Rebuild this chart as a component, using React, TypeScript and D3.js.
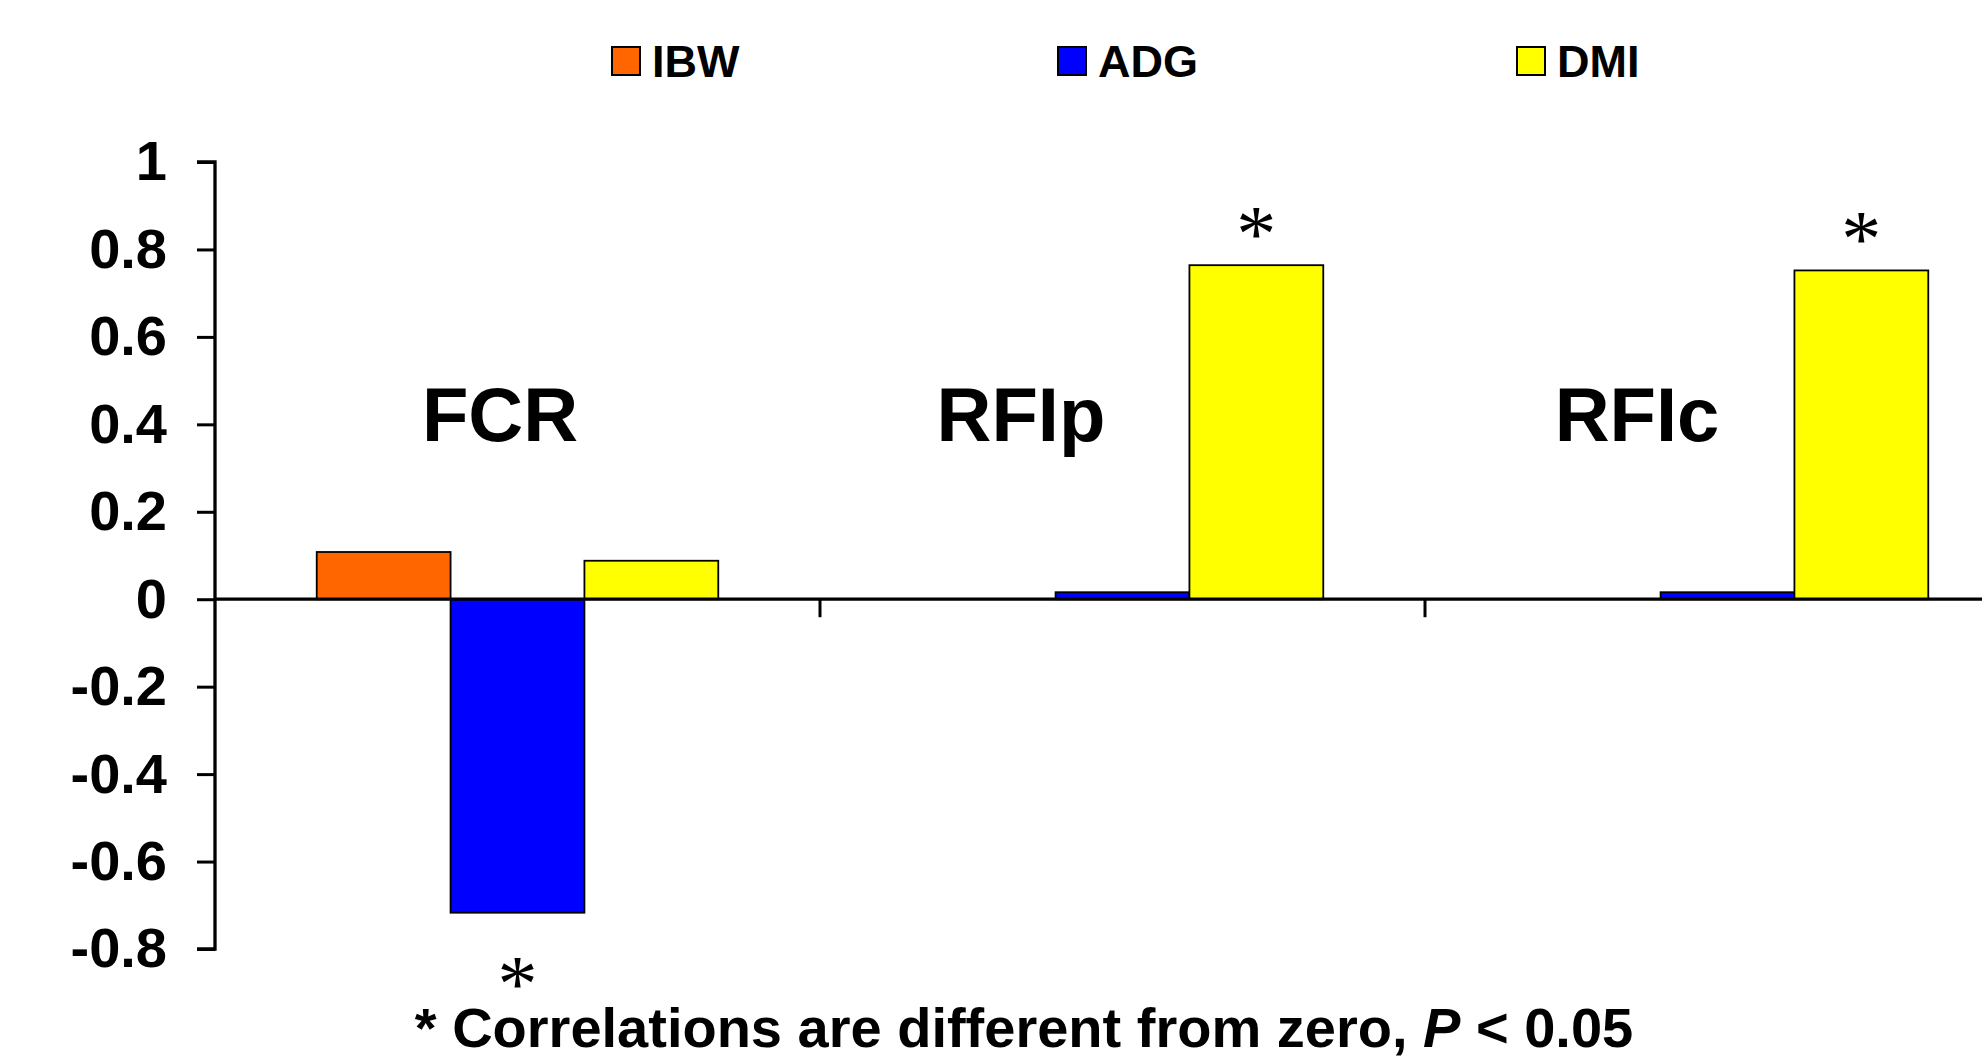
import React, { useRef, useEffect } from 'react';
import * as d3 from 'd3';

// correlations of each trait with the efficiency measures
const categories = ['FCR', 'RFIp', 'RFIc'];
const seriesNames = ['IBW', 'ADG', 'DMI'];
const ibw = [0.108, 0, 0];
const adg = [-0.717, 0.016, 0.016];
const dmi = [0.088, 0.764, 0.752];
// which bars carry a significance star
const starIBW = [false, false, false];
const starADG = [true, false, false];
const starDMI = [false, true, true];
const yTicks = [1, 0.8, 0.6, 0.4, 0.2, 0, -0.2, -0.4, -0.6, -0.8];
const footnote = '* Correlations are different from zero, ';

const colors = ['#FF6600', '#0000FF', '#FFFF00'];

const App = () => {
  const canvas = useRef<SVGSVGElement>(null);

  const drawChart = () => {
    const width = 1982;
    const height = 1059;
    const svg = d3.select(canvas.current);
    svg.selectAll('*').remove();
    svg.attr('width', width).attr('height', height);

    const font = '"Liberation Sans", Arial, sans-serif';
    const left = 215;
    const catW = 605;

    const y = d3.scaleLinear().domain([-0.8, 1]).range([949, 162]);
    const x0 = d3.scaleBand().domain(categories).range([left, left + catW * categories.length]).padding(0);
    const x1 = d3.scaleBand().domain(seriesNames).range([0, x0.bandwidth()]).paddingInner(0).paddingOuter(0.76);

    const values = [ibw, adg, dmi];
    const stars = [starIBW, starADG, starDMI];
    const rows: { cat: string; s: string; v: number; c: string; star: boolean }[] = [];
    categories.forEach((cat, i) => {
      seriesNames.forEach((s, j) => {
        rows.push({ cat, s, v: values[j][i], c: colors[j], star: stars[j][i] });
      });
    });

    const g = svg.append('g');

    // bars
    g.selectAll('rect.bar')
      .data(rows.filter((d) => d.v !== 0))
      .enter()
      .append('rect')
      .attr('class', 'bar')
      .attr('x', (d) => x0(d.cat)! + x1(d.s)!)
      .attr('width', x1.bandwidth())
      .attr('y', (d) => y(Math.max(0, d.v)))
      .attr('height', (d) => Math.abs(y(d.v) - y(0)))
      .attr('fill', (d) => d.c)
      .attr('stroke', '#000')
      .attr('stroke-width', 1.8);

    // y axis
    const yAxis = g.append('g')
      .attr('transform', `translate(${left},0)`)
      .call(d3.axisLeft(y).tickValues(yTicks).tickSize(18).tickPadding(30)
        .tickFormat((d) => {
          const n = +d;
          return n === 0 ? '0' : String(n).replace('−', '-');
        }));
    yAxis.select('.domain').attr('stroke-width', 3.3).attr('d', `M-18,${y(1)}H0V${y(-0.8)}H-18`);
    yAxis.selectAll('.tick line').attr('stroke-width', 3);
    yAxis.selectAll('.tick text')
      .attr('font-family', font)
      .attr('font-weight', 'bold')
      .attr('font-size', 56)
      .attr('fill', '#000');

    // zero line with category separators
    const xAxis = g.append('g')
      .attr('transform', `translate(0,${y(0)})`)
      .call(d3.axisBottom(x0).tickSize(0).tickFormat(() => ''));
    xAxis.select('.domain').attr('stroke-width', 3.3).attr('d', `M${left},0H${left + catW * 3}`);
    g.selectAll('line.sep')
      .data(categories.slice(1))
      .enter()
      .append('line')
      .attr('class', 'sep')
      .attr('x1', (d) => x0(d)!)
      .attr('x2', (d) => x0(d)!)
      .attr('y1', y(0))
      .attr('y2', y(0) + 18)
      .attr('stroke', '#000')
      .attr('stroke-width', 3);

    // significance stars
    g.selectAll('text.star')
      .data(rows.filter((d) => d.star))
      .enter()
      .append('text')
      .attr('class', 'star')
      .attr('x', (d) => x0(d.cat)! + x1(d.s)! + x1.bandwidth() / 2)
      .attr('y', (d) => (d.v < 0 ? y(d.v) + 98 : y(d.v) - 4))
      .attr('text-anchor', 'middle')
      .attr('font-family', '"Liberation Serif", "Times New Roman", serif')
      .attr('font-size', 80)
      .text('*');

    // category labels floating in the plot
    const labelX = [500, 1021, 1637];
    g.selectAll('text.cat')
      .data(categories)
      .enter()
      .append('text')
      .attr('class', 'cat')
      .attr('x', (d, i) => labelX[i])
      .attr('y', 441)
      .attr('text-anchor', 'middle')
      .attr('font-family', font)
      .attr('font-weight', 'bold')
      .attr('font-size', 76)
      .text((d) => d);

    // legend
    const legendX = [612, 1058, 1517];
    const lg = g.selectAll('g.legend')
      .data(seriesNames)
      .enter()
      .append('g')
      .attr('class', 'legend')
      .attr('transform', (d, i) => `translate(${legendX[i]},47)`);
    lg.append('rect')
      .attr('width', 28)
      .attr('height', 28)
      .attr('fill', (d, i) => colors[i])
      .attr('stroke', '#000')
      .attr('stroke-width', 2);
    lg.append('text')
      .attr('x', 40)
      .attr('y', 30)
      .attr('font-family', font)
      .attr('font-weight', 'bold')
      .attr('font-size', 45)
      .text((d) => d);

    // footnote
    const ft = g.append('text')
      .attr('x', 1024)
      .attr('y', 1047)
      .attr('text-anchor', 'middle')
      .attr('font-family', font)
      .attr('font-weight', 'bold')
      .attr('font-size', 56);
    ft.append('tspan').text(footnote);
    ft.append('tspan').attr('font-style', 'italic').text('P');
    ft.append('tspan').text(' < 0.05');
  };

  useEffect(() => {
    drawChart();
  });

  return (
    <svg ref={canvas} style={{ position: 'absolute', left: 0, top: 0, background: '#fff' }}></svg>
  );
};

export default App;
